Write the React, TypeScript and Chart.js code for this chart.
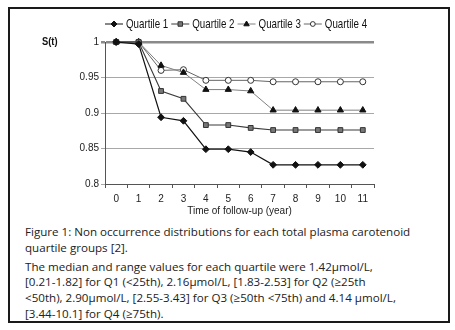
import React, { useEffect, useRef } from "react";
import { Chart, registerables } from "chart.js";

Chart.register(...registerables);

const years = ["0", "1", "2", "3", "4", "5", "6", "7", "8", "9", "10", "11"];
const quartile1 = [1, 0.997, 0.894, 0.889, 0.849, 0.849, 0.845, 0.827, 0.827, 0.827, 0.827, 0.827];
const quartile2 = [1, 1, 0.931, 0.92, 0.883, 0.883, 0.879, 0.876, 0.876, 0.876, 0.876, 0.876];
const quartile3 = [1, 1, 0.967, 0.957, 0.933, 0.933, 0.931, 0.904, 0.904, 0.904, 0.904, 0.904];
const quartile4 = [1, 1, 0.96, 0.961, 0.946, 0.946, 0.946, 0.944, 0.944, 0.944, 0.944, 0.944];
const seriesNames = ["Quartile 1", "Quartile 2", "Quartile 3", "Quartile 4"];
const yTicks = [0.8, 0.85, 0.9, 0.95, 1];

const AXIS_FONT = "'Liberation Sans', Arial, sans-serif";

function drawMarker(ctx: CanvasRenderingContext2D, style: string, x: number, y: number, r: number, fill: string, stroke: string) {
  ctx.save();
  ctx.fillStyle = fill;
  ctx.strokeStyle = stroke;
  ctx.lineWidth = 1;
  ctx.beginPath();
  if (style === "rectRot") {
    ctx.moveTo(x, y - r);
    ctx.lineTo(x + r, y);
    ctx.lineTo(x, y + r);
    ctx.lineTo(x - r, y);
    ctx.closePath();
  } else if (style === "rect") {
    const s = r * 0.75;
    ctx.rect(x - s, y - s, 2 * s, 2 * s);
  } else if (style === "triangle") {
    ctx.moveTo(x, y - r);
    ctx.lineTo(x + r * 0.9, y + r * 0.6);
    ctx.lineTo(x - r * 0.9, y + r * 0.6);
    ctx.closePath();
  } else {
    ctx.arc(x, y, r * 0.8, 0, Math.PI * 2);
  }
  ctx.fill();
  ctx.stroke();
  ctx.restore();
}

const SQUEEZE = 0.75;

const legendPlugin = {
  id: "customLegend",
  afterDraw(chart: any) {
    const ctx = chart.ctx as CanvasRenderingContext2D;
    const area = chart.chartArea;
    let x = area.left;
    const y = 14;
    ctx.save();
    ctx.font = `13px ${AXIS_FONT}`;
    ctx.textBaseline = "middle";
    chart.data.datasets.forEach((ds: any) => {
      ctx.strokeStyle = ds.borderColor;
      ctx.lineWidth = 1;
      ctx.beginPath();
      ctx.moveTo(x, y);
      ctx.lineTo(x + 18, y);
      ctx.stroke();
      drawMarker(ctx, ds.pointStyle, x + 9, y, 3, ds.pointBackgroundColor, ds.pointBorderColor);
      x += 21;
      ctx.fillStyle = "#111";
      ctx.save();
      ctx.translate(x, y + 0.5);
      ctx.scale(SQUEEZE, 1);
      ctx.fillText(ds.label, 0, 0);
      ctx.restore();
      x += ctx.measureText(ds.label).width * SQUEEZE + 3;
    });
    // S(t) label
    ctx.font = `bold 11px ${AXIS_FONT}`;
    ctx.fillStyle = "#111";
    ctx.save();
    ctx.translate(32, chart.scales.y.getPixelForValue(1));
    ctx.scale(0.85, 1);
    ctx.fillText("S(t)", 0, 0);
    ctx.restore();
    ctx.restore();
  },
};

function ChartView() {
  const ref = useRef<HTMLCanvasElement | null>(null);
  useEffect(() => {
    if (!ref.current) return;
    const chart = new Chart(ref.current, {
      type: "line",
      data: {
        labels: years,
        datasets: [
          {
            label: seriesNames[0],
            data: quartile1,
            borderColor: "#111",
            borderWidth: 1.2,
            pointStyle: "rectRot",
            pointRadius: 3.4,
            pointBackgroundColor: "#111",
            pointBorderColor: "#111",
            pointBorderWidth: 1,
          },
          {
            label: seriesNames[1],
            data: quartile2,
            borderColor: "#3a3a3a",
            borderWidth: 1.1,
            pointStyle: "rect",
            pointRadius: 3.4,
            pointBackgroundColor: "#777",
            pointBorderColor: "#333",
            pointBorderWidth: 1,
          },
          {
            label: seriesNames[2],
            data: quartile3,
            borderColor: "#808080",
            borderWidth: 1,
            pointStyle: "triangle",
            pointRadius: 3.6,
            pointBackgroundColor: "#111",
            pointBorderColor: "#111",
            pointBorderWidth: 1,
          },
          {
            label: seriesNames[3],
            data: quartile4,
            borderColor: "#666",
            borderWidth: 1,
            pointStyle: "circle",
            pointRadius: 3,
            pointBackgroundColor: "#fff",
            pointBorderColor: "#333",
            pointBorderWidth: 1,
          },
        ],
      },
      options: {
        responsive: false,
        animation: false,
        devicePixelRatio: 1,
        clip: false as any,
        layout: { padding: { left: 0, right: 66, top: 32, bottom: 0 } },
        plugins: { legend: { display: false }, tooltip: { enabled: false } },
        elements: { line: { tension: 0 } },
        scales: {
          x: {
            type: "category",
            offset: true,
            grid: {
              offset: true,
              drawOnChartArea: false,
              drawTicks: true,
              tickLength: 4,
              color: "#555",
            },
            border: { color: "#555", width: 1 },
            ticks: {
              font: { size: 10, family: AXIS_FONT },
              color: "#222",
              padding: 5,
              maxRotation: 0,
              autoSkip: false,
            },
            title: {
              display: true,
              text: "Time of follow-up (year)",
              font: { size: 10, family: AXIS_FONT },
              color: "#222",
              padding: { top: 0, bottom: 3 },
            },
            afterFit: (s: any) => {
              s.height = 36;
            },
          },
          y: {
            min: 0.8,
            max: 1,
            afterBuildTicks: (s: any) => {
              s.ticks = yTicks.map((v) => ({ value: v }));
            },
            grid: {
              color: (c: any) => (c.tick && c.tick.value === 1 ? "#8a8a8a" : "#a8a8a8"),
              lineWidth: (c: any) => (c.tick && c.tick.value === 1 ? 2.5 : 1),
              drawTicks: true,
              tickLength: 4,
            },
            border: { color: "#555", width: 1 },
            ticks: {
              font: { size: 10, family: AXIS_FONT },
              color: "#222",
              padding: 2,
              callback: (v: any) => String(Number(Number(v).toFixed(2))),
            },
            afterFit: (s: any) => {
              s.width = 95;
            },
          },
        },
      },
      plugins: [legendPlugin],
    });
    return () => chart.destroy();
  }, []);
  return <canvas ref={ref} width={430} height={210} style={{ position: "absolute", left: 10, top: 10, width: 430, height: 210 }} />;
}

export default function App() {
  const text: React.CSSProperties = {
    fontFamily: "'Open Sans', 'Noto Sans', sans-serif",
    fontSize: 11.6,
    lineHeight: "15.8px",
    color: "#222",
    whiteSpace: "nowrap",
    margin: 0,
  };
  return (
    <div style={{ position: "fixed", left: 0, top: 0, width: 455, height: 330, background: "#fff" }}>
      <div
        style={{
          position: "absolute",
          left: 8,
          top: 7,
          width: 442,
          height: 316,
          border: "2px solid #1a1a1a",
          boxSizing: "border-box",
        }}
      />
      <ChartView />
      <div style={{ position: "absolute", left: 25, top: 224 }}>
        <p style={text}>
          Figure 1: Non occurrence distributions for each total plasma carotenoid
          <br />
          quartile groups [2].
        </p>
        <p style={{ ...text, marginTop: 3 }}>
          The median and range values for each quartile were 1.42μmol/L,
          <br />
          [0.21-1.82] for Q1 (&lt;25th), 2.16μmol/L, [1.83-2.53] for Q2 (≥25th
          <br />
          &lt;50th), 2.90μmol/L, [2.55-3.43] for Q3 (≥50th &lt;75th) and 4.14 μmol/L,
          <br />
          [3.44-10.1] for Q4 (≥75th).
        </p>
      </div>
    </div>
  );
}
